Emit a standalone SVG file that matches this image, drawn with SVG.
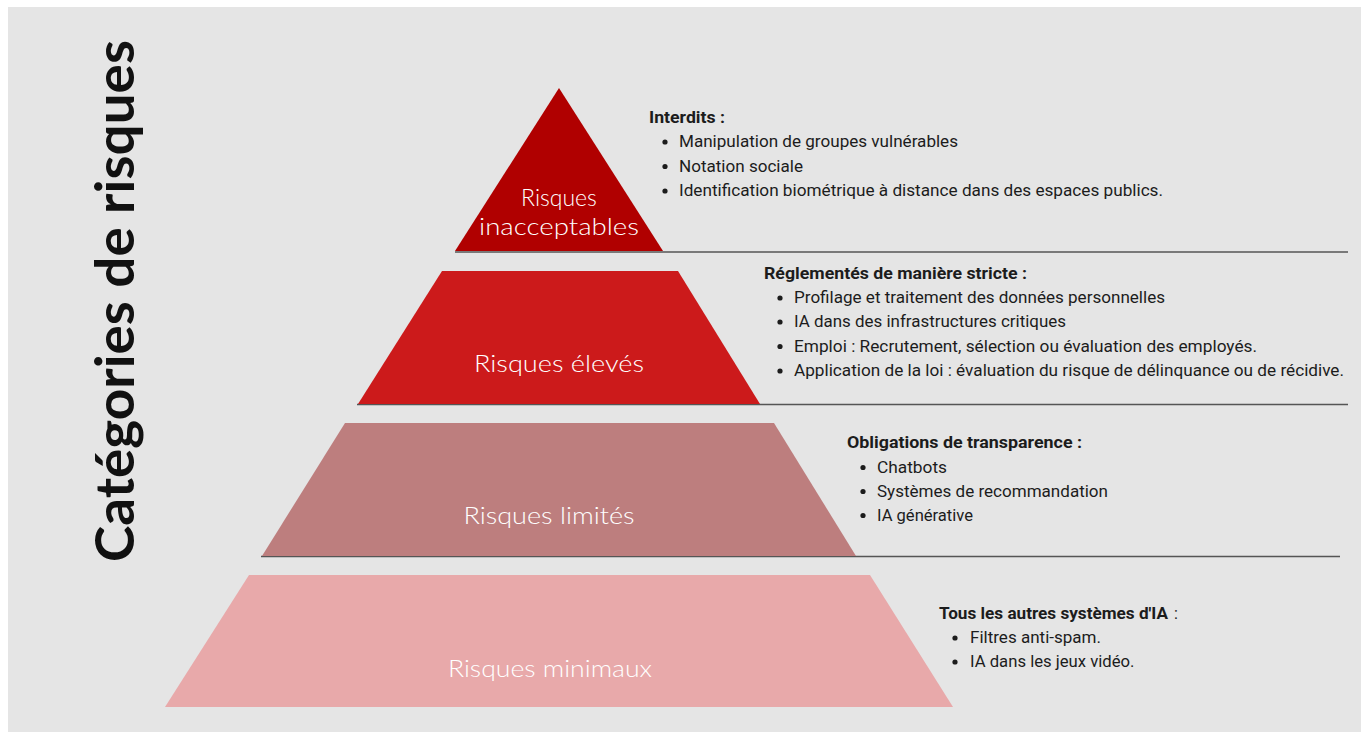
<svg xmlns="http://www.w3.org/2000/svg" width="1361" height="736" viewBox="0 0 1361 736">
<style>
.lvl{fill:#ffffff;font-family:Lato,"Open Sans",sans-serif;font-size:23px;font-weight:300;text-anchor:middle}
.hd{fill:#1c1c1c;font-family:Roboto,"Liberation Sans",sans-serif;font-size:16px;font-weight:bold}
.it{fill:#1c1c1c;font-family:Roboto,"Liberation Sans",sans-serif;font-size:16px}
.sep{stroke:#555555;stroke-width:1.5;fill:none}
.dot{fill:#1c1c1c}
</style>
<rect x="0" y="0" width="1361" height="736" fill="#ffffff"/>
<rect x="8" y="7" width="1353" height="725" fill="#e5e5e5"/>

<g id="title">
<text transform="translate(134,562) rotate(-90)" font-family="Lato,'Open Sans',sans-serif" font-weight="bold" font-size="54" fill="#111111" textLength="522" lengthAdjust="spacingAndGlyphs">Catégories de risques</text>
</g>

<g id="separators">
<line class="sep" x1="455" y1="252" x2="1348" y2="252"/>
<line class="sep" x1="357" y1="404.5" x2="1348" y2="404.5"/>
<line class="sep" x1="261" y1="556.5" x2="1340" y2="556.5"/>
</g>

<g id="level-inacceptable">
<polygon points="559,88 663,251 455,251" fill="#b00000"/>
<text class="lvl" x="559" y="206">Risques</text>
<text class="lvl" x="559" y="235" textLength="160" lengthAdjust="spacingAndGlyphs">inacceptables</text>
</g>

<g id="level-eleve">
<polygon points="442,271 678,271 760,404 358,404" fill="#cc1a1b"/>
<text class="lvl" x="559" y="372" textLength="170" lengthAdjust="spacingAndGlyphs">Risques élevés</text>
</g>

<g id="level-limite">
<polygon points="345,423 774,423 856,556 262,556" fill="#bd7e7e"/>
<text class="lvl" x="549" y="524" textLength="171" lengthAdjust="spacingAndGlyphs">Risques limités</text>
</g>

<g id="level-minimal">
<polygon points="249,575 870,575 953,707 165,707" fill="#e8a9aa"/>
<text class="lvl" x="550" y="677" textLength="204" lengthAdjust="spacingAndGlyphs">Risques minimaux</text>
</g>

<g id="desc-inacceptable">
<text class="hd" x="649" y="123" textLength="76" lengthAdjust="spacingAndGlyphs">Interdits :</text>
<circle class="dot" cx="665" cy="142" r="2.6"/>
<text class="it" x="679" y="147.3" textLength="279" lengthAdjust="spacingAndGlyphs">Manipulation de groupes vulnérables</text>
<circle class="dot" cx="665" cy="166.5" r="2.6"/>
<text class="it" x="679" y="171.7" textLength="124" lengthAdjust="spacingAndGlyphs">Notation sociale</text>
<circle class="dot" cx="665" cy="191" r="2.6"/>
<text class="it" x="679" y="196" textLength="484" lengthAdjust="spacingAndGlyphs">Identification biométrique à distance dans des espaces publics.</text>
</g>

<g id="desc-eleve">
<text class="hd" x="764" y="278.7" textLength="263" lengthAdjust="spacingAndGlyphs">Réglementés de manière stricte :</text>
<circle class="dot" cx="780" cy="298" r="2.6"/>
<text class="it" x="794" y="303.3" textLength="371" lengthAdjust="spacingAndGlyphs">Profilage et traitement des données personnelles</text>
<circle class="dot" cx="780" cy="322" r="2.6"/>
<text class="it" x="794" y="327.3" textLength="272" lengthAdjust="spacingAndGlyphs">IA dans des infrastructures critiques</text>
<circle class="dot" cx="780" cy="346.5" r="2.6"/>
<text class="it" x="794" y="351.7" textLength="463" lengthAdjust="spacingAndGlyphs">Emploi : Recrutement, sélection ou évaluation des employés.</text>
<circle class="dot" cx="780" cy="371" r="2.6"/>
<text class="it" x="794" y="376" textLength="550" lengthAdjust="spacingAndGlyphs">Application de la loi : évaluation du risque de délinquance ou de récidive.</text>
</g>

<g id="desc-limite">
<text class="hd" x="847" y="448.3" textLength="235" lengthAdjust="spacingAndGlyphs">Obligations de transparence :</text>
<circle class="dot" cx="863" cy="467.5" r="2.6"/>
<text class="it" x="877" y="472.7" textLength="70" lengthAdjust="spacingAndGlyphs">Chatbots</text>
<circle class="dot" cx="863" cy="491.5" r="2.6"/>
<text class="it" x="877" y="496.7" textLength="231" lengthAdjust="spacingAndGlyphs">Systèmes de recommandation</text>
<circle class="dot" cx="863" cy="515.5" r="2.6"/>
<text class="it" x="877" y="520.7" textLength="96" lengthAdjust="spacingAndGlyphs">IA générative</text>
</g>

<g id="desc-minimal">
<text class="hd" x="939" y="619" textLength="229" lengthAdjust="spacingAndGlyphs">Tous les autres systèmes d'IA</text>
<text class="it" x="1174" y="619">:</text>
<circle class="dot" cx="955" cy="638" r="2.6"/>
<text class="it" x="970" y="643.3" textLength="131" lengthAdjust="spacingAndGlyphs">Filtres anti-spam.</text>
<circle class="dot" cx="955" cy="662" r="2.6"/>
<text class="it" x="970" y="667.3" textLength="164.5" lengthAdjust="spacingAndGlyphs">IA dans les jeux vidéo.</text>
</g>
</svg>
